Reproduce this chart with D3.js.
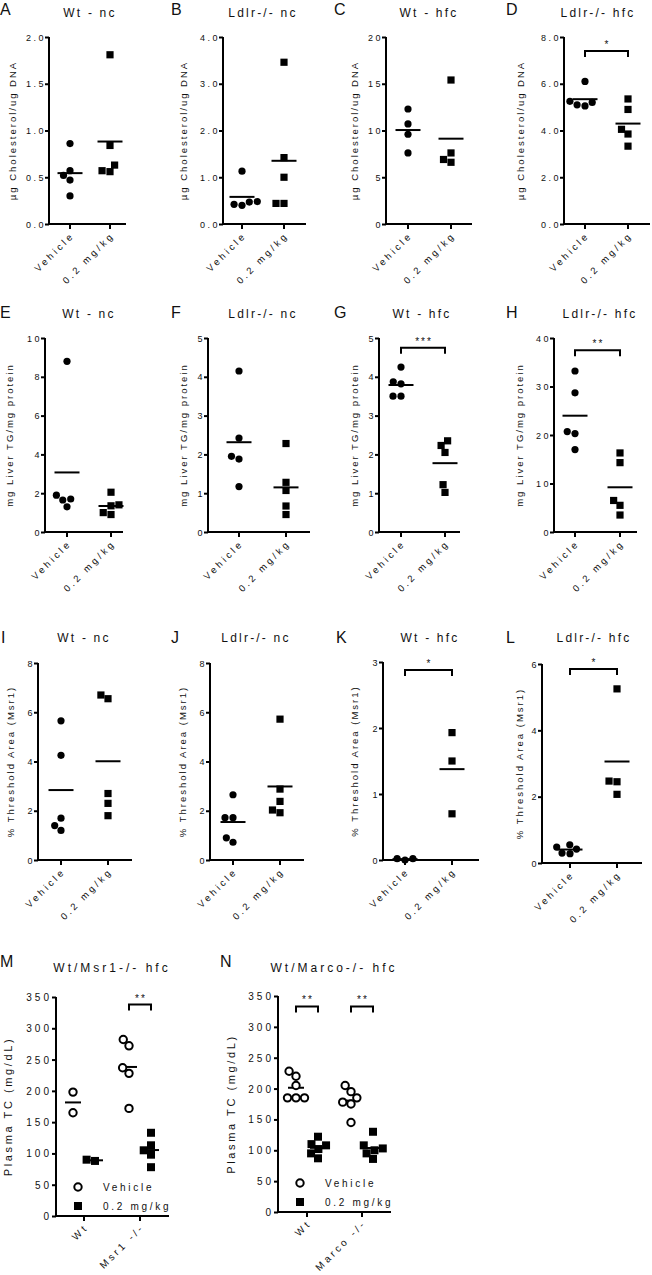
<!DOCTYPE html>
<html><head><meta charset="utf-8">
<script src="https://cdn.jsdelivr.net/npm/d3@7"></script>
<style>
body{margin:0;background:#fff}
svg{display:block}
</style></head><body>
<svg id="c" width="652" height="1275"></svg>
<script>
// ---------------- DATA ----------------
const categories = ["Vehicle", "0.2 mg/kg"];
const genotypesM = ["Wt", "Msr1 -/-"];
const genotypesN = ["Wt", "Marco -/-"];
const legendLabels = ["Vehicle", "0.2 mg/kg"];

const panelLetters = ["A","B","C","D","E","F","G","H","I","J","K","L","M","N"];
const panelTitles = ["Wt - nc","Ldlr-/- nc","Wt - hfc","Ldlr-/- hfc",
                     "Wt - nc","Ldlr-/- nc","Wt - hfc","Ldlr-/- hfc",
                     "Wt - nc","Ldlr-/- nc","Wt - hfc","Ldlr-/- hfc",
                     "Wt/Msr1-/- hfc","Wt/Marco-/- hfc"];
const yTitles = ["µg Cholesterol/ug DNA","mg Liver TG/mg protein","% Threshold Area (Msr1)","Plasma TC (mg/dL)"];

const yMaxes    = [2, 4, 20, 8,  10, 5, 5, 40,  8, 8, 3, 6,  350, 350];
const yTickStep = [0.5, 1, 5, 2, 2, 1, 1, 10,  2, 2, 1, 2,  50, 50];
const yTickFmt  = [".1f",".1f","d",".1f", "d","d","d","d", "d","d","d","d", "d","d"];

// Row 1: µg cholesterol / ug DNA
const A_vehicle = [0.86, 0.57, 0.52, 0.47, 0.30];
const A_dose    = [1.81, 0.84, 0.63, 0.56, 0.57];
const B_vehicle = [1.13, 0.48, 0.47, 0.42, 0.40];
const B_dose    = [3.46, 1.42, 1.00, 0.44, 0.44];
const C_vehicle = [12.3, 10.7, 9.6, 7.6];
const C_dose    = [15.4, 7.6, 6.6, 6.9];
const D_vehicle = [6.1, 5.25, 5.2, 5.1, 5.05];
const D_dose    = [5.35, 4.9, 4.05, 3.85, 3.33];
// Row 2: mg liver TG / mg protein
const E_vehicle = [8.8, 1.9, 1.7, 1.65, 1.3];
const E_dose    = [2.05, 1.4, 1.35, 1.0, 0.9];
const F_vehicle = [4.15, 2.42, 1.95, 1.88, 1.17];
const F_dose    = [2.28, 1.28, 1.07, 0.67, 0.45];
const G_vehicle = [4.25, 3.87, 3.82, 3.5, 3.5];
const G_dose    = [2.35, 2.23, 2.05, 1.22, 1.02];
const H_vehicle = [33.2, 28.7, 20.7, 20.3, 17.0];
const H_dose    = [16.3, 14.3, 6.5, 5.5, 3.5];
// Row 3: % threshold area (Msr1)
const I_vehicle = [5.65, 4.25, 1.7, 1.4, 1.2];
const I_dose    = [6.7, 6.55, 2.7, 2.3, 1.8];
const J_vehicle = [2.65, 1.72, 1.72, 0.9, 0.72];
const J_dose    = [5.72, 2.88, 2.38, 2.03, 1.92];
const K_vehicle = [0.02, 0.0, 0.02];
const K_dose    = [1.93, 1.5, 0.7];
const L_vehicle = [0.55, 0.48, 0.42, 0.30, 0.28];
const L_dose    = [5.25, 2.47, 2.45, 2.07];
// Row 4: plasma TC (mg/dL)
const M_wt_vehicle   = [198, 165];
const M_wt_dose      = [88, 90];
const M_ko_vehicle   = [282, 272, 237, 228, 172];
const M_ko_dose      = [133, 113, 105, 98, 78];
const N_wt_vehicle   = [228, 220, 205, 185, 185, 185];
const N_wt_dose      = [122, 110, 108, 102, 95, 87];
const N_ko_vehicle   = [205, 195, 185, 178, 175, 145];
const N_ko_dose      = [130, 108, 103, 100, 95, 86];

// significance brackets: panel, y value, label
const sigPanels = ["D","G","H","K","L"];
const sigY      = [7.4, 4.75, 37.5, 2.88, 5.85];
const sigLabels = ["*","***","**","*","*"];
const sigGroupedPanels = ["M","N","N"];
const sigGroupedGeno   = [1, 0, 1];
const sigGroupedY      = [338, 333, 333];
const sigGroupedLabels = ["**","**","**"];

// ---------------- LAYOUT (pixels) ----------------
const FONT = '"Liberation Sans", Arial, Helvetica, sans-serif';
const rows = [
  {top:37,  bottom:224, titleY:17,  letterY:15},
  {top:338, bottom:532, titleY:318, letterY:318},
  {top:663, bottom:860, titleY:642, letterY:643},
  {top:997, bottom:1216, titleY:972, letterY:967}
];
const layout = {
  A:{ax:49, t:[70,110], end:126, titleX:90, letterX:0, ylabX:12},
  B:{ax:223,t:[242,284],end:306, titleX:263,letterX:171,ylabX:183},
  C:{ax:386,t:[408,451],end:472, titleX:429,letterX:334,ylabX:354},
  D:{ax:564,t:[585,628],end:650, titleX:598,letterX:506,ylabX:520},
  E:{ax:45, t:[67,111], end:123, titleX:89, letterX:0, ylabX:9},
  F:{ax:208,t:[239,286],end:310, titleX:263,letterX:171,ylabX:183},
  G:{ax:379,t:[401,445],end:460, titleX:422,letterX:334,ylabX:354},
  H:{ax:554,t:[575,620],end:637, titleX:600,letterX:506,ylabX:519},
  I:{ax:38, t:[61,108], end:132, titleX:84, letterX:1, ylabX:10},
  J:{ax:210,t:[233,280],end:304, titleX:256,letterX:171,ylabX:182},
  K:{ax:383,t:[405,452],end:479, titleX:430,letterX:336,ylabX:354, top:662},
  L:{ax:542,t:[570,617],end:642, titleX:594,letterX:506,ylabX:519, top:664, bottom:863},
  M:{ax:56, t:[84,140], end:169, titleX:112,letterX:0, ylabX:8},
  N:{ax:278,t:[307,362],end:391, titleX:334,letterX:220,ylabX:231, top:996, bottom:1212}
};

const svg = d3.select("#c").style("font-family", FONT);

function swarm(values, yScale, D) {
  const pts = values.map((v, i) => ({i, y: yScale(v), x: 0}));
  const order = pts.slice().sort((a, b) => b.y - a.y);
  const placed = [];
  for (const p of order) {
    const cands = [0];
    for (const q of placed) {
      const dy = Math.abs(p.y - q.y);
      if (dy < D) { const dx = Math.sqrt(D*D - dy*dy); cands.push(q.x - dx, q.x + dx); }
    }
    cands.sort((a, b) => Math.abs(a) - Math.abs(b) || a - b);
    for (const c of cands) {
      const ok = placed.every(q => (c - q.x)**2 + (p.y - q.y)**2 >= D*D - 0.01);
      if (ok) { p.x = c; break; }
    }
    placed.push(p);
  }
  return pts.map(p => p.x);
}

const sym = (type, size) => d3.symbol().type(type).size(size)();

function drawPanel(idx, groups, xDomain, opts) {
  const key = panelLetters[idx];
  const L = layout[key];
  const rowIdx = Math.floor(idx / 4) > 3 ? 3 : Math.min(3, Math.floor(idx / 4));
  const R = rows[rowIdx];
  const top = L.top ?? R.top, bottom = L.bottom ?? R.bottom;
  const big = rowIdx === 3;
  const g = svg.append("g");

  const y = d3.scaleLinear().domain([0, yMaxes[idx]]).range([bottom, top]);
  const x = d3.scalePoint().domain(xDomain).range(L.t);

  // letter and title
  g.append("text").attr("x", L.letterX).attr("y", R.letterY)
    .attr("font-size", 16).attr("fill", "#111").text(key);
  g.append("text").attr("x", L.titleX).attr("y", R.titleY)
    .attr("text-anchor", "middle").attr("font-size", 12)
    .attr("letter-spacing", big ? 3 : 2.2).attr("fill", "#111").text(panelTitles[idx]);

  // y axis
  const step = yTickStep[idx];
  const tv = d3.range(0, yMaxes[idx] + step / 2, step);
  const ya = d3.axisLeft(y).tickValues(tv).tickFormat(d3.format(yTickFmt[idx]))
    .tickSize(4).tickSizeOuter(0).tickPadding(0);
  const yg = g.append("g").attr("transform", `translate(${L.ax},0)`).call(ya);
  yg.select(".domain").attr("stroke", "#000").attr("stroke-width", 2).attr("d", `M0,${bottom + 1}V${top}`);
  yg.selectAll(".tick line").attr("stroke", "#000").attr("stroke-width", 2);
  yg.selectAll(".tick text").attr("font-family", FONT).attr("font-size", big ? 10 : 9)
    .attr("letter-spacing", big ? 3 : 2.5).attr("fill", "#111")
    .attr("x", big ? -4 : -3).attr("dy", "0.35em");

  // y title
  g.append("text").attr("transform", `translate(${L.ylabX},${(top + bottom) / 2}) rotate(-90)`)
    .attr("text-anchor", "middle").attr("dominant-baseline", "central")
    .attr("font-size", big ? 11 : 9.5).attr("letter-spacing", big ? 2.6 : 2)
    .attr("fill", "#111").text(yTitles[rowIdx]);

  // x axis line + ticks
  g.append("line").attr("x1", L.ax - 1).attr("x2", L.end).attr("y1", bottom).attr("y2", bottom)
    .attr("stroke", "#000").attr("stroke-width", 2);
  xDomain.forEach(c => {
    g.append("line").attr("x1", x(c)).attr("x2", x(c)).attr("y1", bottom).attr("y2", bottom + 5)
      .attr("stroke", "#000").attr("stroke-width", 2);
    g.append("text").attr("transform", `translate(${x(c) + 5},${bottom + 12}) rotate(-45)`)
      .attr("text-anchor", "end").attr("font-size", big ? 10 : 9.5)
      .attr("letter-spacing", big ? 3 : 3).attr("fill", "#111").text(c);
  });

  // groups of points
  groups.forEach(gr => {
    const cx = x(gr.cat) + (gr.offset || 0);
    const D = big ? 8.5 : 8;
    const xs = swarm(gr.values, y, D);
    const m = d3.mean(gr.values);
    const hw = big ? 8 : 12.5;
    g.append("line").attr("x1", cx - hw).attr("x2", cx + hw).attr("y1", y(m)).attr("y2", y(m))
      .attr("stroke", "#000").attr("stroke-width", 2);
    gr.values.forEach((v, i) => {
      const px = cx + xs[i], py = y(v);
      if (gr.shape === "circle") {
        g.append("circle").attr("cx", px).attr("cy", py).attr("r", 3.6).attr("fill", "#000");
      } else if (gr.shape === "open") {
        g.append("circle").attr("cx", px).attr("cy", py).attr("r", 3.7)
          .attr("fill", "#fff").attr("stroke", "#000").attr("stroke-width", 2);
      } else {
        const s = big ? 8 : 7.2;
        g.append("path").attr("transform", `translate(${px},${py})`)
          .attr("d", sym(d3.symbolSquare, s * s)).attr("fill", "#000");
      }
    });
  });

  return {g, x, y, L, bottom, top, big};
}

function bracket(P, x1, x2, yv, label) {
  const yy = P.y(yv);
  P.g.append("path").attr("d", `M${x1},${yy + 6}V${yy}H${x2}V${yy + 6}`)
    .attr("fill", "none").attr("stroke", "#000").attr("stroke-width", 2);
  P.g.append("text").attr("x", (x1 + x2) / 2).attr("y", yy - 3).attr("text-anchor", "middle")
    .attr("font-size", 10).attr("letter-spacing", 2).attr("fill", "#111").attr("dx", 1).text(label);
}

// ------- draw panels A-L -------
const simple = [
  [A_vehicle, A_dose],[B_vehicle, B_dose],[C_vehicle, C_dose],[D_vehicle, D_dose],
  [E_vehicle, E_dose],[F_vehicle, F_dose],[G_vehicle, G_dose],[H_vehicle, H_dose],
  [I_vehicle, I_dose],[J_vehicle, J_dose],[K_vehicle, K_dose],[L_vehicle, L_dose]
];
const panels = {};
simple.forEach((pair, idx) => {
  panels[panelLetters[idx]] = drawPanel(idx, [
    {cat: categories[0], values: pair[0], shape: "circle"},
    {cat: categories[1], values: pair[1], shape: "square"}
  ], categories);
});
sigPanels.forEach((k, i) => {
  const P = panels[k];
  bracket(P, P.x(categories[0]), P.x(categories[1]), sigY[i], sigLabels[i]);
});

// ------- draw panels M, N -------
const inner = d3.scalePoint().domain(legendLabels).range([-11, 11]);
function groupedPanel(idx, genos, sets) {
  const groups = [];
  genos.forEach((gname, gi) => {
    groups.push({cat: gname, offset: inner(legendLabels[0]), values: sets[gi][0], shape: "open"});
    groups.push({cat: gname, offset: inner(legendLabels[1]), values: sets[gi][1], shape: "square"});
  });
  const P = drawPanel(idx, groups, genos);
  // legend
  const lx = P.L.ax + 22;
  const ly1 = P.bottom - 29, ly2 = P.bottom - 10;
  P.g.append("circle").attr("cx", lx).attr("cy", ly1).attr("r", 3.7)
    .attr("fill", "#fff").attr("stroke", "#000").attr("stroke-width", 2);
  P.g.append("path").attr("transform", `translate(${lx},${ly2})`)
    .attr("d", sym(d3.symbolSquare, 64)).attr("fill", "#000");
  [ly1, ly2].forEach((ly, i) => {
    P.g.append("text").attr("x", lx + 25).attr("y", ly).attr("dy", "0.35em")
      .attr("font-size", 10).attr("letter-spacing", 2.7).attr("fill", "#111").text(legendLabels[i]);
  });
  return P;
}
panels.M = groupedPanel(12, genotypesM, [[M_wt_vehicle, M_wt_dose],[M_ko_vehicle, M_ko_dose]]);
panels.N = groupedPanel(13, genotypesN, [[N_wt_vehicle, N_wt_dose],[N_ko_vehicle, N_ko_dose]]);
sigGroupedPanels.forEach((k, i) => {
  const P = panels[k];
  const geno = (k === "M" ? genotypesM : genotypesN)[sigGroupedGeno[i]];
  bracket(P, P.x(geno) + inner(legendLabels[0]), P.x(geno) + inner(legendLabels[1]), sigGroupedY[i], sigGroupedLabels[i]);
});
</script>
</body></html>
